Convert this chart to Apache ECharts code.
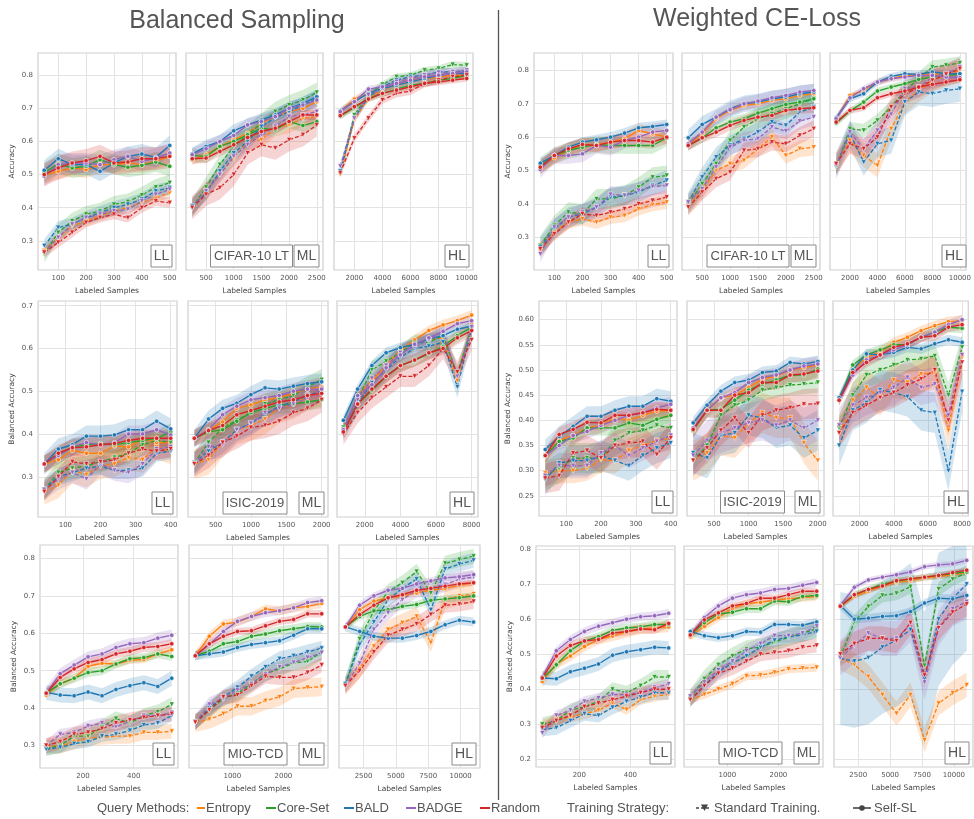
<!DOCTYPE html>
<html><head><meta charset="utf-8">
<script src="https://cdn.jsdelivr.net/npm/echarts@6/dist/echarts.min.js"></script>
<style>html,body{margin:0;padding:0;background:#fff}#c{width:974px;height:819px}</style>
</head><body><div id="c"></div>
<script>
// ---------- DATA ----------
const METHODS = ['Entropy','Core-Set','BALD','BADGE','Random'];
const STRATEGIES = ['Standard Training.','Self-SL'];
// x values (labeled samples)
const XS_CIFAR_LL = [50,100,150,200,250,300,350,400,450,500];
const XS_CIFAR_ML = [250,500,750,1000,1250,1500,1750,2000,2250,2500];
const XS_CIFAR_HL = [1000,2000,3000,4000,5000,6000,7000,8000,9000,10000];
const XS_ISIC_LL = [40,80,120,160,200,240,280,320,360,400];
const XS_ISIC_ML = [200,400,600,800,1000,1200,1400,1600,1800,2000];
const XS_ISIC_HL = [800,1600,2400,3200,4000,4800,5600,6400,7200,8000];
const XS_MIO_LL = [55,110,165,220,275,330,385,440,495,550];
const XS_MIO_ML = [275,550,825,1100,1375,1650,1925,2200,2475,2750];
const XS_MIO_HL = [1100,2200,3300,4400,5500,6600,7700,8800,9900,11000];

// tick labels
const XT_CIFAR = [[100,200,300,400,500],[500,1000,1500,2000,2500],[2000,4000,6000,8000,10000]];
const XT_ISIC = [[100,200,300,400],[500,1000,1500,2000],[2000,4000,6000,8000]];
const XT_MIO = [[200,400],[1000,2000],[2500,5000,7500,10000]];
const YT_BS = [[0.3,0.4,0.5,0.6,0.7,0.8],[0.3,0.4,0.5,0.6,0.7],[0.3,0.4,0.5,0.6,0.7,0.8]];
const YT_WC = [[0.3,0.4,0.5,0.6,0.7,0.8],[0.25,0.30,0.35,0.40,0.45,0.50,0.55,0.60],[0.2,0.3,0.4,0.5,0.6,0.7,0.8]];

// rows: Entropy, Core-Set, BALD, BADGE, Random
// ===== Balanced Sampling =====
const BS_CIFAR_LL_SSL = [
 [0.498,0.510,0.520,0.515,0.530,0.530,0.535,0.530,0.540,0.555],
 [0.505,0.533,0.520,0.525,0.545,0.530,0.522,0.528,0.538,0.525],
 [0.513,0.548,0.530,0.530,0.510,0.535,0.555,0.562,0.552,0.588],
 [0.495,0.530,0.535,0.535,0.530,0.545,0.555,0.540,0.550,0.565],
 [0.500,0.520,0.535,0.542,0.555,0.535,0.538,0.548,0.548,0.555]];
const BS_CIFAR_LL_STD = [
 [0.270,0.310,0.345,0.360,0.375,0.390,0.400,0.415,0.430,0.445],
 [0.260,0.325,0.360,0.380,0.390,0.410,0.418,0.438,0.462,0.475],
 [0.285,0.340,0.350,0.370,0.385,0.400,0.410,0.425,0.450,0.460],
 [0.265,0.310,0.350,0.370,0.380,0.390,0.395,0.420,0.440,0.455],
 [0.265,0.295,0.325,0.355,0.370,0.380,0.370,0.400,0.420,0.415]];
const BS_CIFAR_LL_SD = [[0.025,0.03,0.03,0.03,0.035],[0.015,0.025,0.02,0.015,0.015]];

const BS_CIFAR_ML_SSL = [
 [0.545,0.560,0.585,0.605,0.625,0.655,0.675,0.690,0.700,0.720],
 [0.558,0.555,0.585,0.600,0.620,0.640,0.635,0.660,0.648,0.660],
 [0.562,0.585,0.600,0.632,0.650,0.665,0.680,0.700,0.715,0.735],
 [0.560,0.578,0.600,0.618,0.650,0.660,0.675,0.700,0.710,0.725],
 [0.548,0.550,0.570,0.590,0.612,0.630,0.640,0.660,0.680,0.680]];
const BS_CIFAR_ML_STD = [
 [0.400,0.450,0.500,0.550,0.600,0.605,0.640,0.650,0.670,0.675],
 [0.400,0.462,0.530,0.585,0.620,0.655,0.690,0.710,0.725,0.748],
 [0.405,0.445,0.510,0.565,0.600,0.645,0.672,0.690,0.710,0.730],
 [0.400,0.450,0.500,0.555,0.590,0.620,0.645,0.675,0.680,0.690],
 [0.400,0.440,0.460,0.500,0.565,0.590,0.580,0.605,0.620,0.650]];
const BS_CIFAR_ML_SD = [[0.015,0.02,0.02,0.02,0.015],[0.025,0.03,0.025,0.025,0.035]];

const BS_CIFAR_HL_SSL = [
 [0.690,0.728,0.745,0.760,0.770,0.785,0.790,0.795,0.800,0.800],
 [0.676,0.702,0.730,0.745,0.758,0.770,0.775,0.785,0.790,0.800],
 [0.692,0.720,0.745,0.760,0.770,0.780,0.790,0.800,0.805,0.805],
 [0.690,0.720,0.758,0.765,0.775,0.785,0.795,0.800,0.805,0.810],
 [0.678,0.705,0.728,0.745,0.755,0.765,0.775,0.780,0.785,0.790]];
const BS_CIFAR_HL_STD = [
 [0.500,0.665,0.730,0.755,0.775,0.785,0.795,0.800,0.805,0.810],
 [0.510,0.680,0.740,0.772,0.795,0.800,0.815,0.820,0.832,0.830],
 [0.510,0.670,0.735,0.765,0.785,0.795,0.800,0.810,0.810,0.812],
 [0.525,0.670,0.740,0.760,0.780,0.790,0.800,0.808,0.810,0.815],
 [0.505,0.610,0.670,0.725,0.745,0.752,0.775,0.785,0.795,0.800]];
const BS_CIFAR_HL_SD = [[0.01,0.01,0.01,0.01,0.01],[0.01,0.01,0.012,0.012,0.012]];

const BS_ISIC_LL_SSL = [
 [0.330,0.340,0.362,0.355,0.355,0.372,0.370,0.390,0.380,0.380],
 [0.330,0.350,0.370,0.375,0.378,0.375,0.380,0.385,0.390,0.405],
 [0.330,0.365,0.375,0.395,0.395,0.398,0.410,0.410,0.430,0.412],
 [0.330,0.350,0.370,0.380,0.375,0.380,0.400,0.400,0.410,0.398],
 [0.330,0.355,0.368,0.370,0.375,0.378,0.385,0.390,0.390,0.390]];
const BS_ISIC_LL_STD = [
 [0.265,0.280,0.315,0.305,0.325,0.330,0.345,0.340,0.370,0.360],
 [0.270,0.310,0.320,0.325,0.335,0.345,0.355,0.375,0.385,0.380],
 [0.270,0.300,0.310,0.320,0.325,0.315,0.315,0.320,0.355,0.360],
 [0.270,0.295,0.310,0.295,0.330,0.315,0.310,0.330,0.365,0.370],
 [0.265,0.300,0.335,0.330,0.335,0.340,0.355,0.365,0.360,0.365]];
const BS_ISIC_LL_SD = [[0.02,0.02,0.025,0.02,0.02],[0.03,0.025,0.02,0.025,0.02]];

const BS_ISIC_ML_SSL = [
 [0.390,0.410,0.428,0.460,0.468,0.480,0.485,0.495,0.505,0.510],
 [0.390,0.405,0.410,0.430,0.450,0.460,0.468,0.470,0.475,0.480],
 [0.390,0.435,0.460,0.472,0.492,0.508,0.505,0.512,0.518,0.522],
 [0.390,0.410,0.445,0.465,0.480,0.485,0.490,0.500,0.505,0.505],
 [0.390,0.408,0.420,0.445,0.455,0.465,0.475,0.480,0.490,0.495]];
const BS_ISIC_ML_STD = [
 [0.330,0.340,0.380,0.410,0.420,0.435,0.460,0.470,0.490,0.500],
 [0.332,0.380,0.415,0.432,0.450,0.470,0.480,0.490,0.510,0.527],
 [0.332,0.360,0.380,0.410,0.425,0.445,0.465,0.475,0.490,0.500],
 [0.330,0.370,0.375,0.410,0.425,0.450,0.460,0.470,0.485,0.505],
 [0.330,0.350,0.380,0.395,0.415,0.420,0.430,0.450,0.460,0.480]];
const BS_ISIC_ML_SD = [[0.015,0.02,0.02,0.02,0.02],[0.035,0.025,0.025,0.03,0.03]];

const BS_ISIC_HL_SSL = [
 [0.410,0.490,0.525,0.560,0.595,0.620,0.642,0.655,0.665,0.678],
 [0.405,0.470,0.502,0.535,0.560,0.572,0.588,0.605,0.630,0.650],
 [0.432,0.505,0.560,0.590,0.602,0.610,0.622,0.630,0.645,0.652],
 [0.410,0.490,0.515,0.555,0.585,0.610,0.625,0.640,0.658,0.665],
 [0.405,0.470,0.505,0.535,0.560,0.573,0.590,0.600,0.625,0.642]];
const BS_ISIC_HL_STD = [
 [0.410,0.485,0.520,0.560,0.590,0.610,0.620,0.625,0.525,0.655],
 [0.415,0.480,0.550,0.570,0.590,0.612,0.615,0.630,0.540,0.650],
 [0.410,0.470,0.520,0.550,0.580,0.600,0.605,0.615,0.510,0.645],
 [0.410,0.480,0.530,0.560,0.590,0.605,0.620,0.640,0.535,0.650],
 [0.400,0.450,0.485,0.510,0.535,0.535,0.560,0.600,0.545,0.620]];
const BS_ISIC_HL_SD = [[0.012,0.015,0.012,0.012,0.015],[0.015,0.02,0.025,0.02,0.025]];

const BS_MIO_LL_SSL = [
 [0.435,0.465,0.480,0.512,0.520,0.518,0.528,0.530,0.545,0.556],
 [0.440,0.465,0.480,0.495,0.500,0.518,0.532,0.535,0.545,0.538],
 [0.442,0.435,0.433,0.443,0.433,0.450,0.460,0.468,0.458,0.480],
 [0.440,0.492,0.515,0.537,0.545,0.562,0.572,0.575,0.587,0.595],
 [0.440,0.482,0.505,0.522,0.530,0.545,0.552,0.562,0.565,0.572]];
const BS_MIO_LL_STD = [
 [0.300,0.298,0.310,0.320,0.322,0.325,0.325,0.335,0.335,0.338],
 [0.292,0.300,0.325,0.325,0.350,0.372,0.360,0.380,0.390,0.410],
 [0.290,0.295,0.305,0.310,0.325,0.330,0.340,0.355,0.360,0.380],
 [0.300,0.330,0.335,0.352,0.360,0.350,0.365,0.380,0.380,0.388],
 [0.300,0.310,0.330,0.335,0.345,0.360,0.368,0.375,0.380,0.385]];
const BS_MIO_LL_SD = [[0.01,0.012,0.02,0.015,0.012],[0.02,0.02,0.015,0.015,0.02]];

const BS_MIO_ML_SSL = [
 [0.540,0.592,0.625,0.630,0.645,0.665,0.660,0.668,0.672,0.680],
 [0.540,0.552,0.572,0.578,0.592,0.598,0.607,0.612,0.618,0.617],
 [0.540,0.545,0.550,0.562,0.570,0.575,0.580,0.595,0.612,0.612],
 [0.540,0.570,0.605,0.632,0.645,0.655,0.660,0.668,0.682,0.687],
 [0.540,0.572,0.592,0.605,0.607,0.620,0.632,0.637,0.652,0.652]];
const BS_MIO_ML_STD = [
 [0.362,0.370,0.385,0.405,0.405,0.420,0.430,0.452,0.455,0.457],
 [0.362,0.395,0.425,0.440,0.465,0.492,0.505,0.520,0.525,0.550],
 [0.362,0.400,0.430,0.455,0.485,0.510,0.532,0.540,0.550,0.560],
 [0.362,0.410,0.425,0.448,0.465,0.490,0.510,0.522,0.535,0.548],
 [0.362,0.395,0.430,0.435,0.460,0.485,0.482,0.482,0.495,0.515]];
const BS_MIO_ML_SD = [[0.012,0.012,0.012,0.012,0.01],[0.025,0.02,0.02,0.02,0.02]];

const BS_MIO_HL_SSL = [
 [0.617,0.663,0.686,0.695,0.700,0.708,0.715,0.720,0.728,0.735],
 [0.617,0.645,0.660,0.663,0.672,0.677,0.688,0.692,0.695,0.700],
 [0.617,0.605,0.592,0.587,0.587,0.594,0.605,0.623,0.635,0.630],
 [0.617,0.675,0.700,0.715,0.720,0.732,0.740,0.748,0.751,0.757],
 [0.617,0.650,0.675,0.695,0.703,0.715,0.720,0.726,0.732,0.735]];
const BS_MIO_HL_STD = [
 [0.460,0.505,0.565,0.610,0.628,0.645,0.575,0.690,0.700,0.705],
 [0.462,0.585,0.660,0.712,0.735,0.765,0.708,0.787,0.797,0.806],
 [0.465,0.570,0.630,0.690,0.720,0.745,0.663,0.772,0.785,0.795],
 [0.460,0.520,0.610,0.655,0.690,0.715,0.720,0.730,0.745,0.750],
 [0.460,0.500,0.550,0.595,0.610,0.625,0.650,0.675,0.678,0.685]];
const BS_MIO_HL_SD = [[0.008,0.01,0.012,0.01,0.008],[0.025,0.02,0.02,0.02,0.02]];

// ===== Weighted CE-Loss =====
const WC_CIFAR_LL_SSL = [
 [0.510,0.538,0.560,0.578,0.578,0.585,0.595,0.620,0.610,0.600],
 [0.515,0.545,0.560,0.570,0.578,0.575,0.575,0.575,0.575,0.598],
 [0.522,0.545,0.570,0.585,0.592,0.600,0.612,0.628,0.632,0.638],
 [0.503,0.545,0.545,0.550,0.575,0.570,0.590,0.600,0.615,0.620],
 [0.510,0.545,0.565,0.578,0.575,0.585,0.590,0.590,0.585,0.600]];
const WC_CIFAR_LL_STD = [
 [0.260,0.315,0.345,0.355,0.345,0.360,0.365,0.385,0.398,0.405],
 [0.275,0.335,0.375,0.370,0.415,0.415,0.425,0.450,0.480,0.485],
 [0.270,0.325,0.360,0.370,0.390,0.420,0.425,0.435,0.455,0.470],
 [0.250,0.330,0.360,0.375,0.390,0.428,0.425,0.440,0.452,0.455],
 [0.265,0.310,0.345,0.370,0.365,0.375,0.385,0.400,0.410,0.420]];
const WC_CIFAR_LL_SD = [[0.02,0.025,0.015,0.025,0.02],[0.02,0.03,0.03,0.025,0.02]];

const WC_CIFAR_ML_SSL = [
 [0.575,0.610,0.655,0.680,0.695,0.700,0.710,0.715,0.725,0.730],
 [0.575,0.598,0.628,0.645,0.655,0.672,0.685,0.698,0.705,0.715],
 [0.598,0.638,0.660,0.685,0.700,0.705,0.715,0.720,0.730,0.735],
 [0.580,0.615,0.660,0.682,0.700,0.708,0.718,0.725,0.735,0.740],
 [0.575,0.598,0.615,0.635,0.650,0.660,0.665,0.680,0.685,0.688]];
const WC_CIFAR_ML_STD = [
 [0.395,0.440,0.500,0.520,0.530,0.565,0.600,0.545,0.565,0.570],
 [0.400,0.460,0.520,0.590,0.630,0.655,0.670,0.685,0.700,0.715],
 [0.405,0.480,0.540,0.575,0.595,0.615,0.645,0.635,0.675,0.690],
 [0.405,0.445,0.510,0.570,0.590,0.595,0.630,0.618,0.648,0.660],
 [0.390,0.435,0.475,0.495,0.560,0.565,0.585,0.580,0.605,0.625]];
const WC_CIFAR_ML_SD = [[0.012,0.015,0.025,0.02,0.015],[0.025,0.03,0.03,0.025,0.025]];

const WC_CIFAR_HL_SSL = [
 [0.655,0.725,0.740,0.765,0.775,0.785,0.785,0.790,0.790,0.790],
 [0.642,0.678,0.705,0.738,0.750,0.760,0.773,0.780,0.785,0.788],
 [0.658,0.715,0.730,0.765,0.782,0.790,0.788,0.795,0.790,0.790],
 [0.655,0.718,0.745,0.765,0.775,0.780,0.785,0.785,0.780,0.778],
 [0.645,0.680,0.688,0.718,0.730,0.738,0.750,0.758,0.765,0.772]];
const WC_CIFAR_HL_STD = [
 [0.520,0.590,0.545,0.515,0.625,0.705,0.740,0.770,0.785,0.800],
 [0.510,0.625,0.620,0.650,0.690,0.740,0.775,0.810,0.815,0.822],
 [0.515,0.610,0.525,0.580,0.590,0.705,0.735,0.730,0.740,0.745],
 [0.515,0.615,0.565,0.620,0.668,0.745,0.750,0.780,0.790,0.810],
 [0.520,0.580,0.565,0.600,0.690,0.730,0.748,0.770,0.788,0.805]];
const WC_CIFAR_HL_SD = [[0.008,0.01,0.01,0.01,0.01],[0.035,0.02,0.04,0.03,0.03]];

const WC_ISIC_LL_SSL = [
 [0.330,0.360,0.370,0.385,0.390,0.405,0.400,0.410,0.418,0.420],
 [0.330,0.358,0.365,0.385,0.385,0.385,0.395,0.390,0.402,0.410],
 [0.342,0.368,0.388,0.408,0.408,0.420,0.428,0.428,0.443,0.438],
 [0.330,0.350,0.370,0.378,0.390,0.400,0.410,0.415,0.425,0.432],
 [0.330,0.372,0.382,0.396,0.395,0.410,0.410,0.415,0.422,0.420]];
const WC_ISIC_LL_STD = [
 [0.295,0.300,0.300,0.305,0.322,0.320,0.340,0.350,0.360,0.365],
 [0.290,0.305,0.325,0.325,0.325,0.360,0.375,0.380,0.390,0.385],
 [0.282,0.315,0.320,0.320,0.330,0.320,0.310,0.330,0.345,0.355],
 [0.290,0.310,0.310,0.310,0.335,0.350,0.330,0.345,0.358,0.370],
 [0.285,0.290,0.335,0.340,0.325,0.350,0.355,0.358,0.332,0.365]];
const WC_ISIC_LL_SD = [[0.015,0.015,0.02,0.015,0.015],[0.025,0.03,0.03,0.025,0.03]];

const WC_ISIC_ML_SSL = [
 [0.380,0.420,0.445,0.450,0.465,0.482,0.488,0.500,0.505,0.510],
 [0.380,0.420,0.422,0.440,0.460,0.472,0.480,0.490,0.490,0.502],
 [0.395,0.430,0.458,0.475,0.480,0.495,0.498,0.515,0.512,0.517],
 [0.385,0.420,0.445,0.455,0.475,0.485,0.490,0.500,0.508,0.512],
 [0.382,0.420,0.420,0.450,0.455,0.475,0.475,0.490,0.492,0.498]];
const WC_ISIC_ML_STD = [
 [0.320,0.335,0.370,0.365,0.395,0.415,0.405,0.405,0.355,0.320],
 [0.320,0.350,0.410,0.430,0.440,0.460,0.465,0.470,0.472,0.475],
 [0.335,0.325,0.370,0.375,0.410,0.405,0.385,0.390,0.365,0.380],
 [0.330,0.360,0.375,0.385,0.395,0.400,0.390,0.400,0.385,0.400],
 [0.320,0.345,0.380,0.405,0.375,0.410,0.420,0.425,0.432,0.433]];
const WC_ISIC_ML_SD = [[0.012,0.015,0.012,0.015,0.015],[0.04,0.02,0.04,0.04,0.03]];

const WC_ISIC_HL_SSL = [
 [0.440,0.500,0.525,0.535,0.555,0.565,0.578,0.588,0.596,0.598],
 [0.440,0.510,0.530,0.540,0.550,0.550,0.565,0.575,0.585,0.583],
 [0.445,0.500,0.532,0.530,0.535,0.545,0.542,0.552,0.560,0.555],
 [0.440,0.490,0.520,0.530,0.540,0.550,0.565,0.575,0.590,0.600],
 [0.440,0.495,0.515,0.530,0.545,0.552,0.565,0.568,0.585,0.590]];
const WC_ISIC_HL_STD = [
 [0.375,0.440,0.465,0.445,0.480,0.475,0.492,0.495,0.380,0.525],
 [0.385,0.450,0.490,0.500,0.510,0.520,0.522,0.528,0.450,0.545],
 [0.350,0.420,0.435,0.460,0.455,0.447,0.420,0.415,0.300,0.457],
 [0.390,0.430,0.445,0.455,0.465,0.485,0.465,0.472,0.410,0.530],
 [0.375,0.415,0.430,0.445,0.455,0.470,0.482,0.500,0.400,0.515]];
const WC_ISIC_HL_SD = [[0.01,0.01,0.01,0.01,0.01],[0.035,0.025,0.04,0.035,0.03]];

const WC_MIO_LL_SSL = [
 [0.422,0.472,0.495,0.522,0.542,0.552,0.563,0.572,0.575,0.578],
 [0.430,0.470,0.510,0.538,0.550,0.568,0.575,0.578,0.585,0.585],
 [0.432,0.430,0.450,0.460,0.472,0.497,0.507,0.513,0.520,0.518],
 [0.435,0.510,0.542,0.565,0.580,0.590,0.600,0.607,0.610,0.617],
 [0.432,0.495,0.525,0.538,0.542,0.560,0.565,0.572,0.570,0.588]];
const WC_MIO_LL_STD = [
 [0.297,0.315,0.320,0.330,0.340,0.360,0.342,0.370,0.380,0.385],
 [0.300,0.310,0.340,0.350,0.365,0.400,0.390,0.410,0.435,0.435],
 [0.285,0.290,0.310,0.330,0.325,0.348,0.365,0.378,0.390,0.390],
 [0.275,0.325,0.340,0.365,0.375,0.385,0.385,0.390,0.405,0.415],
 [0.290,0.310,0.325,0.350,0.360,0.370,0.380,0.390,0.400,0.400]];
const WC_MIO_LL_SD = [[0.015,0.012,0.02,0.012,0.012],[0.015,0.02,0.02,0.015,0.015]];

const WC_MIO_ML_SSL = [
 [0.550,0.580,0.605,0.630,0.645,0.648,0.655,0.658,0.662,0.665],
 [0.555,0.590,0.615,0.620,0.630,0.630,0.652,0.650,0.665,0.668],
 [0.565,0.553,0.547,0.553,0.565,0.563,0.585,0.585,0.583,0.592],
 [0.555,0.605,0.638,0.660,0.670,0.675,0.685,0.688,0.697,0.705],
 [0.555,0.598,0.618,0.638,0.645,0.660,0.660,0.670,0.680,0.680]];
const WC_MIO_ML_STD = [
 [0.370,0.385,0.400,0.415,0.438,0.440,0.448,0.458,0.460,0.462],
 [0.375,0.430,0.470,0.495,0.515,0.520,0.535,0.548,0.560,0.573],
 [0.370,0.410,0.450,0.475,0.495,0.520,0.540,0.550,0.555,0.565],
 [0.380,0.420,0.455,0.480,0.510,0.530,0.553,0.553,0.560,0.580],
 [0.370,0.410,0.445,0.460,0.480,0.500,0.505,0.510,0.520,0.525]];
const WC_MIO_ML_SD = [[0.012,0.012,0.012,0.012,0.01],[0.012,0.025,0.02,0.02,0.02]];

const WC_MIO_HL_SSL = [
 [0.637,0.665,0.680,0.695,0.705,0.710,0.718,0.722,0.727,0.733],
 [0.637,0.670,0.685,0.700,0.708,0.715,0.720,0.725,0.730,0.735],
 [0.639,0.600,0.603,0.608,0.610,0.622,0.646,0.660,0.658,0.668],
 [0.639,0.691,0.712,0.720,0.727,0.735,0.750,0.755,0.758,0.768],
 [0.637,0.670,0.685,0.695,0.710,0.715,0.720,0.725,0.733,0.740]];
const WC_MIO_HL_STD = [
 [0.489,0.470,0.436,0.384,0.331,0.384,0.255,0.360,0.389,0.412],
 [0.490,0.593,0.636,0.668,0.674,0.693,0.468,0.686,0.714,0.733],
 [0.488,0.480,0.490,0.520,0.540,0.570,0.430,0.600,0.660,0.700],
 [0.490,0.525,0.560,0.545,0.545,0.585,0.420,0.575,0.630,0.650],
 [0.500,0.530,0.545,0.545,0.538,0.590,0.440,0.575,0.620,0.643]];
const WC_MIO_HL_SD = [[0.008,0.01,0.012,0.008,0.008],[0.035,0.02,0.19,0.05,0.035]];

// ---------- STYLE / LAYOUT ----------
const COLORS = ['#ff7f0e','#2ca02c','#1f77b4','#9467bd','#d62728'];
const Y_RANGE = [[[0.212,0.867],[0.206,0.711],[0.240,0.836]],[[0.202,0.852],[0.210,0.637],[0.178,0.809]]];
const BOXES = [
 [[[38,53,138,217],[186,53,137,217],[334,53,139,217]],
  [[38,301,139,216],[188,301,140,216],[337,301,141,216]],
  [[40,545,138,223],[189,545,139,223],[339,545,141,223]]],
 [[[534,53,139,217],[682,53,138,217],[830,53,140,217]],
  [[539,301,138,215],[687,301,137,215],[833,301,139,215]],
  [[536,546,139,221],[684,546,139,221],[834,546,139,221]]]
];
const DATASETS = [
 {name:'CIFAR-10 LT', nameW:82, xs:[XS_CIFAR_LL,XS_CIFAR_ML,XS_CIFAR_HL], xt:XT_CIFAR, yName:'Accuracy',
  data:[[ [BS_CIFAR_LL_SSL,BS_CIFAR_LL_STD,BS_CIFAR_LL_SD],[BS_CIFAR_ML_SSL,BS_CIFAR_ML_STD,BS_CIFAR_ML_SD],[BS_CIFAR_HL_SSL,BS_CIFAR_HL_STD,BS_CIFAR_HL_SD] ],
        [ [WC_CIFAR_LL_SSL,WC_CIFAR_LL_STD,WC_CIFAR_LL_SD],[WC_CIFAR_ML_SSL,WC_CIFAR_ML_STD,WC_CIFAR_ML_SD],[WC_CIFAR_HL_SSL,WC_CIFAR_HL_STD,WC_CIFAR_HL_SD] ]]},
 {name:'ISIC-2019', nameW:64, xs:[XS_ISIC_LL,XS_ISIC_ML,XS_ISIC_HL], xt:XT_ISIC, yName:'Balanced Accuracy',
  data:[[ [BS_ISIC_LL_SSL,BS_ISIC_LL_STD,BS_ISIC_LL_SD],[BS_ISIC_ML_SSL,BS_ISIC_ML_STD,BS_ISIC_ML_SD],[BS_ISIC_HL_SSL,BS_ISIC_HL_STD,BS_ISIC_HL_SD] ],
        [ [WC_ISIC_LL_SSL,WC_ISIC_LL_STD,WC_ISIC_LL_SD],[WC_ISIC_ML_SSL,WC_ISIC_ML_STD,WC_ISIC_ML_SD],[WC_ISIC_HL_SSL,WC_ISIC_HL_STD,WC_ISIC_HL_SD] ]]},
 {name:'MIO-TCD', nameW:63, xs:[XS_MIO_LL,XS_MIO_ML,XS_MIO_HL], xt:XT_MIO, yName:'Balanced Accuracy',
  data:[[ [BS_MIO_LL_SSL,BS_MIO_LL_STD,BS_MIO_LL_SD],[BS_MIO_ML_SSL,BS_MIO_ML_STD,BS_MIO_ML_SD],[BS_MIO_HL_SSL,BS_MIO_HL_STD,BS_MIO_HL_SD] ],
        [ [WC_MIO_LL_SSL,WC_MIO_LL_STD,WC_MIO_LL_SD],[WC_MIO_ML_SSL,WC_MIO_ML_STD,WC_MIO_ML_SD],[WC_MIO_HL_SSL,WC_MIO_HL_STD,WC_MIO_HL_SD] ]]}
];
const TAGS = ['LL','ML','HL'];
const TAG_W = [21,25,24];
const AX_FONT = 'DejaVu Sans';
const TXT_FONT = '"Liberation Sans", Arial, sans-serif';

function rgba(hex, a){
  const n = parseInt(hex.slice(1),16);
  return 'rgba(' + ((n>>16)&255) + ',' + ((n>>8)&255) + ',' + (n&255) + ',' + a + ')';
}

const grids = [], xAxes = [], yAxes = [], bandSer = [], lineSer = [], graphics = [];

function makeBand(idx, xs, vals, w, color){
  const n = xs.length;
  return {
    type:'custom', xAxisIndex: idx, yAxisIndex: idx, silent:true, z:1,
    dimensions:['x','lo','hi'], encode:{x:0, y:[1,2]},
    data: xs.map((x,i)=>[x, vals[i]-w, vals[i]+w]),
    renderItem: function(params, api){
      if (params.dataIndexInside !== 0) return null;
      const cs = params.coordSys;
      const clamp = v => Math.max(cs.y, Math.min(cs.y + cs.height, v));
      const top = [], bot = [];
      for (let i = 0; i < n; i++){
        const x = api.value(0, i), lo = api.value(1, i), hi = api.value(2, i);
        const p1 = api.coord([x, hi]), p2 = api.coord([x, lo]);
        top.push([p1[0], clamp(p1[1])]);
        bot.push([p2[0], clamp(p2[1])]);
      }
      return {type:'polygon', shape:{points: top.concat(bot.reverse())}, style:{fill: rgba(color, 0.2)}, silent:true};
    }
  };
}

let idx = 0;
for (let g = 0; g < 2; g++){
  for (let r = 0; r < 3; r++){
    const ds = DATASETS[r];
    const yr = Y_RANGE[g][r];
    const yt = (g === 0 ? YT_BS : YT_WC)[r];
    const twoDec = (g === 1 && r === 1);
    for (let c = 0; c < 3; c++){
      const [L, T, W, H] = BOXES[g][r][c];
      const xs = ds.xs[c];
      const span = xs[xs.length-1] - xs[0];
      grids.push({left:L, top:T, width:W, height:H, show:true, borderColor:'#cfcfcf', borderWidth:1.2, backgroundColor:'transparent'});
      xAxes.push({
        type:'value', gridIndex: idx, min: xs[0] - 0.05*span, max: xs[xs.length-1] + 0.05*span,
        axisLine:{show:false}, axisTick:{show:false, customValues: ds.xt[c]},
        axisLabel:{customValues: ds.xt[c], fontSize:7, color:'#555', margin:5, fontFamily: AX_FONT,
          formatter: v => String(Math.round(v))},
        splitLine:{show:true, lineStyle:{color:'#e3e3e3', width:1}},
        name:'Labeled Samples', nameLocation:'middle', nameGap:17,
        nameTextStyle:{fontSize:7.5, color:'#444', fontFamily: AX_FONT}
      });
      yAxes.push({
        type:'value', gridIndex: idx, min: yr[0], max: yr[1],
        axisLine:{show:false}, axisTick:{show:false, customValues: yt},
        axisLabel:{show: c === 0, customValues: yt, fontSize:7, color:'#555', margin:5, fontFamily: AX_FONT,
          formatter: v => twoDec ? v.toFixed(2) : v.toFixed(1)},
        splitLine:{show:true, lineStyle:{color:'#e3e3e3', width:1}},
        name: c === 0 ? ds.yName : '', nameLocation:'middle', nameGap: twoDec ? 27 : 22,
        nameTextStyle:{fontSize:7.5, color:'#444', fontFamily: AX_FONT}
      });
      const [ssl, std, sd] = ds.data[g][c];
      for (let m = 0; m < 5; m++){
        bandSer.push(makeBand(idx, xs, ssl[m], sd[0][m], COLORS[m]));
        bandSer.push(makeBand(idx, xs, std[m], sd[1][m], COLORS[m]));
      }
      for (let m = 0; m < 5; m++){
        lineSer.push({
          type:'line', name: METHODS[m] + ' / ' + STRATEGIES[0], xAxisIndex: idx, yAxisIndex: idx, z:3, silent:true,
          data: xs.map((x,i)=>[x, std[m][i]]),
          symbol:'triangle', symbolRotate:180, symbolSize:5, showSymbol:true,
          lineStyle:{color: COLORS[m], width:1.3, type:[4,2]},
          itemStyle:{color: COLORS[m], borderColor:'#fff', borderWidth:0.5}
        });
        lineSer.push({
          type:'line', name: METHODS[m] + ' / ' + STRATEGIES[1], xAxisIndex: idx, yAxisIndex: idx, z:3, silent:true,
          data: xs.map((x,i)=>[x, ssl[m][i]]),
          symbol:'circle', symbolSize:4.5, showSymbol:true,
          lineStyle:{color: COLORS[m], width:1.4, type:'solid'},
          itemStyle:{color: COLORS[m], borderColor:'#fff', borderWidth:0.6}
        });
      }
      // tag boxes
      const bx = L + W - 4 - TAG_W[c], by = T + H - 3 - 22;
      graphics.push({type:'rect', z:100, shape:{x:bx, y:by, width:TAG_W[c], height:22}, style:{fill:'#fff', stroke:'#8a8a8a', lineWidth:1}});
      graphics.push({type:'text', z:101, style:{x: bx + TAG_W[c]/2, y: by + 11.5, text: TAGS[c], fill:'#555', font:'14px ' + TXT_FONT, align:'center', verticalAlign:'middle'}});
      if (c === 1){
        const nx = L + W/2 - 3 - ds.nameW/2;
        graphics.push({type:'rect', z:100, shape:{x:nx, y:by, width:ds.nameW, height:22}, style:{fill:'#fff', stroke:'#8a8a8a', lineWidth:1}});
        graphics.push({type:'text', z:101, style:{x: nx + ds.nameW/2, y: by + 11.5, text: ds.name, fill:'#555', font:'13px ' + TXT_FONT, align:'center', verticalAlign:'middle'}});
      }
      idx++;
    }
  }
}

// titles & divider
graphics.push({type:'text', z:100, style:{x:237, y:21, text:'Balanced Sampling', fill:'#555', font:'25px ' + TXT_FONT, align:'center', verticalAlign:'middle'}});
graphics.push({type:'text', z:100, style:{x:757, y:19, text:'Weighted CE-Loss', fill:'#555', font:'25px ' + TXT_FONT, align:'center', verticalAlign:'middle'}});
graphics.push({type:'line', z:100, shape:{x1:498.5, y1:10, x2:498.5, y2:800}, style:{stroke:'#555', lineWidth:1.3}});

// legend
const LY = 808;
const legendFont = '13px ' + TXT_FONT;
function ltext(x, t){ graphics.push({type:'text', z:100, style:{x:x, y:LY, text:t, fill:'#555', font:legendFont, align:'left', verticalAlign:'middle'}}); }
ltext(97, 'Query Methods:');
const LEG_X = [[197,206],[266,277],[344,355],[406,417],[480,491]];
for (let m = 0; m < 5; m++){
  graphics.push({type:'line', z:100, shape:{x1:LEG_X[m][0], y1:LY, x2:LEG_X[m][1]-1, y2:LY}, style:{stroke:COLORS[m], lineWidth:2}});
  ltext(LEG_X[m][1], METHODS[m]);
}
ltext(567, 'Training Strategy:');
graphics.push({type:'line', z:100, shape:{x1:696, y1:LY, x2:709, y2:LY}, style:{stroke:'#444', lineWidth:1.6, lineDash:[3,2]}});
graphics.push({type:'polygon', z:101, shape:{points:[[701,LY-3.5],[708,LY-3.5],[704.5,LY+3]]}, style:{fill:'#444'}});
ltext(714, STRATEGIES[0]);
graphics.push({type:'line', z:100, shape:{x1:853, y1:LY, x2:871, y2:LY}, style:{stroke:'#444', lineWidth:1.6}});
graphics.push({type:'circle', z:101, shape:{cx:862, cy:LY, r:2.8}, style:{fill:'#444'}});
ltext(874, STRATEGIES[1]);

const chart = echarts.init(document.getElementById('c'), null, {renderer:'canvas'});
chart.setOption({
  animation:false,
  backgroundColor:'#fff',
  grid: grids, xAxis: xAxes, yAxis: yAxes,
  series: bandSer.concat(lineSer),
  graphic: graphics
});
</script>
</body></html>
